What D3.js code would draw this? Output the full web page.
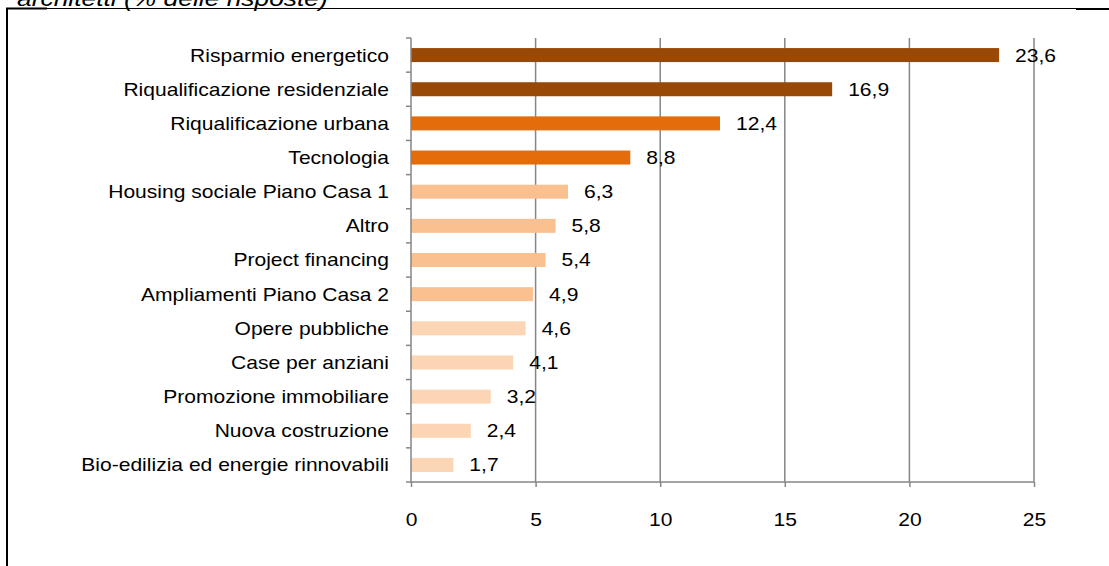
<!DOCTYPE html>
<html>
<head>
<meta charset="utf-8">
<script src="https://cdnjs.cloudflare.com/ajax/libs/d3/7.8.5/d3.min.js"></script>
<style>
  html, body { margin: 0; padding: 0; background: #fff; }
  svg { display: block; }
  text { font-family: "Liberation Sans", Arial, sans-serif; fill: #000; }
</style>
</head>
<body>
<svg id="chart" width="1109" height="566"></svg>
<script>
const categories = [
  "Risparmio energetico",
  "Riqualificazione residenziale",
  "Riqualificazione urbana",
  "Tecnologia",
  "Housing sociale Piano Casa 1",
  "Altro",
  "Project financing",
  "Ampliamenti Piano Casa 2",
  "Opere pubbliche",
  "Case per anziani",
  "Promozione immobiliare",
  "Nuova costruzione",
  "Bio-edilizia ed energie rinnovabili"
];
const values = [23.6, 16.9, 12.4, 8.8, 6.3, 5.8, 5.4, 4.9, 4.6, 4.1, 3.2, 2.4, 1.7];
const colorGroups = [0, 0, 1, 1, 2, 2, 2, 2, 3, 3, 3, 3, 3];
const palette = ["#984807", "#E46C0A", "#FAC090", "#FCD5B5"];
const xTicks = [0, 5, 10, 15, 20, 25];
const titleText = "architetti (% delle risposte)";

const svg = d3.select("#chart");
const axisColor = "#868686";
const SX = 1.17; // horizontal stretch of the source's glyphs

// frame
svg.append("line").attr("x1", 7).attr("x2", 1109).attr("y1", 8.5).attr("y2", 8.5)
  .attr("stroke", "#000").attr("stroke-width", 1);
svg.append("line").attr("x1", 6).attr("x2", 47).attr("y1", 8.5).attr("y2", 8.5)
  .attr("stroke", "#000").attr("stroke-width", 2);
svg.append("line").attr("x1", 1076).attr("x2", 1109).attr("y1", 9).attr("y2", 9)
  .attr("stroke", "#000").attr("stroke-width", 2);
svg.append("line").attr("x1", 7).attr("x2", 7).attr("y1", 8).attr("y2", 566)
  .attr("stroke", "#000").attr("stroke-width", 2);

// title (cut off at top, as in the source)
svg.append("text")
  .attr("transform", "translate(17,6) scale(1.2,1)")
  .attr("font-size", 22).attr("font-style", "italic")
  .text(titleText);

const x = d3.scaleLinear().domain([0, 25]).range([411, 1034]);
const y = d3.scaleBand().domain(categories).range([38, 482]).paddingInner(0.59).paddingOuter(0.295);

// gridlines
svg.append("g").selectAll("line").data(xTicks.slice(1)).join("line")
  .attr("x1", d => x(d)).attr("x2", d => x(d))
  .attr("y1", 38).attr("y2", 482)
  .attr("stroke", axisColor).attr("stroke-width", 1.5);

// bars
svg.append("g").selectAll("rect").data(values).join("rect")
  .attr("x", x(0))
  .attr("y", (d, i) => y(categories[i]))
  .attr("width", d => x(d) - x(0))
  .attr("height", y.bandwidth())
  .attr("fill", (d, i) => palette[colorGroups[i]]);

// value labels
svg.append("g").selectAll("text").data(values).join("text")
  .attr("transform", (d, i) => `translate(${x(d) + 16},${y(categories[i]) + y.bandwidth() / 2}) scale(${SX},1)`)
  .attr("dy", "0.36em")
  .attr("font-size", 18)
  .text(d => d3.format(".1f")(d).replace(".", ","));

// y axis
const yAxisG = svg.append("g").attr("transform", `translate(${x(0)},0)`);
yAxisG.append("line").attr("x1", 0).attr("x2", 0).attr("y1", 38).attr("y2", 482)
  .attr("stroke", axisColor).attr("stroke-width", 1.5);
const boundaries = d3.range(categories.length + 1).map(i => 38 + i * (444 / categories.length));
yAxisG.selectAll("line.tk").data(boundaries).join("line").attr("class", "tk")
  .attr("x1", -5).attr("x2", 0).attr("y1", d => d).attr("y2", d => d)
  .attr("stroke", axisColor).attr("stroke-width", 1.5);
svg.append("g").selectAll("text").data(categories).join("text")
  .attr("transform", d => `translate(389,${y(d) + y.bandwidth() / 2}) scale(${SX},1)`)
  .attr("dy", "0.36em")
  .attr("text-anchor", "end")
  .attr("font-size", 18)
  .text(d => d);

// x axis
const xAxis = d3.axisBottom(x).tickValues(xTicks).tickSize(5).tickFormat(d3.format("d"));
const xg = svg.append("g").attr("transform", "translate(0,482)").call(xAxis);
xg.select(".domain").attr("stroke", axisColor).attr("stroke-width", 1.5).attr("d", `M${x(0)},0H${x(25)}`);
xg.selectAll(".tick line").attr("stroke", axisColor).attr("stroke-width", 1.5);
xg.selectAll(".tick text")
  .attr("y", null).attr("dy", null)
  .attr("transform", `translate(0,44) scale(${SX},1)`)
  .attr("font-size", 18)
  .attr("font-family", "Liberation Sans, Arial, sans-serif").attr("fill", "#000");
</script>
</body>
</html>
